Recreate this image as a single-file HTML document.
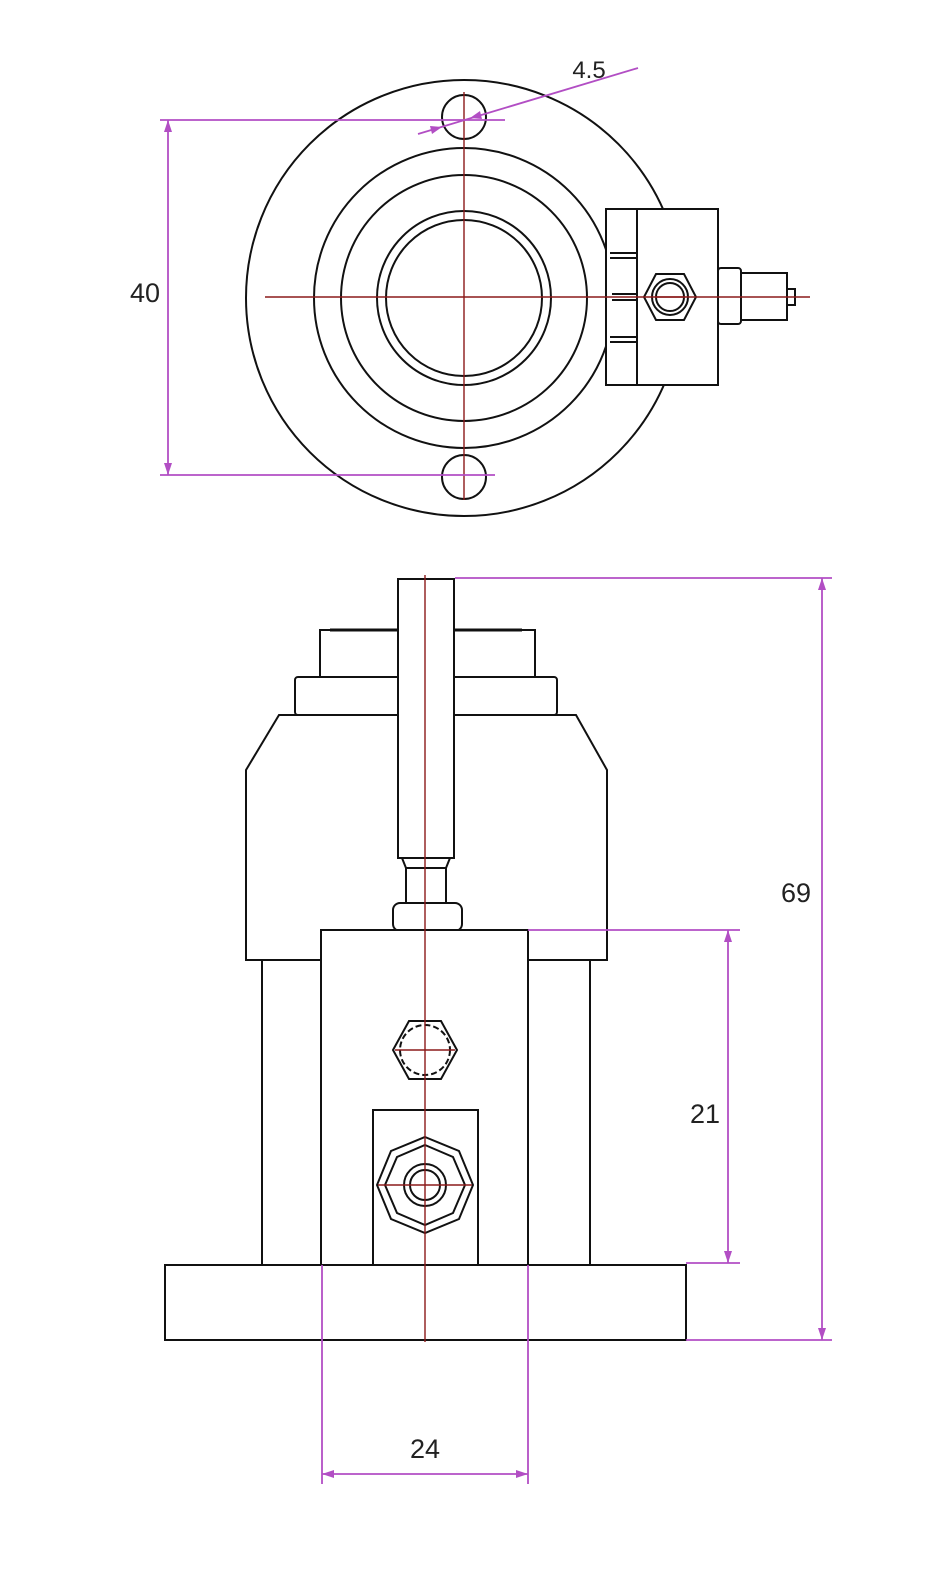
<!DOCTYPE html>
<html><head><style>html,body{margin:0;padding:0;background:#fff}svg{display:block}</style></head><body>
<svg width="946" height="1575" viewBox="0 0 946 1575" xmlns="http://www.w3.org/2000/svg">
<g fill="none" stroke="#111" stroke-width="2">
<!-- top view -->
<circle cx="464" cy="298" r="218"/>
<ellipse cx="464" cy="298" rx="150" ry="150"/>
<circle cx="464" cy="298" r="123"/>
<circle cx="464" cy="298" r="87"/>
<circle cx="464" cy="298" r="78"/>
<circle cx="464" cy="117" r="22"/>
<circle cx="464" cy="477" r="22"/>
<rect x="606" y="209" width="112" height="176" fill="#fff"/>
<line x1="637" y1="209" x2="637" y2="385"/>
<line x1="610" y1="253" x2="637" y2="253"/><line x1="610" y1="258" x2="637" y2="258"/>
<line x1="610" y1="337" x2="637" y2="337"/><line x1="610" y1="342" x2="637" y2="342"/>
<polygon points="656,274 684,274 696,297 684,320 656,320 644,297"/>
<circle cx="670" cy="297" r="18"/><circle cx="670" cy="297" r="14"/>
<line x1="612" y1="294" x2="637" y2="294"/><line x1="612" y1="300" x2="637" y2="300"/>
<rect x="718" y="268" width="23" height="56" rx="3"/>
<rect x="741" y="273" width="46" height="47"/>
<rect x="787" y="289" width="8" height="16"/>
<!-- front view -->
<path d="M279 715 L576 715 L607 770 L607 960 L246 960 L246 770 Z"/>
<rect x="295" y="677" width="262" height="38" rx="3"/>
<rect x="320" y="630" width="215" height="47"/>
<line x1="330" y1="630" x2="522" y2="630" stroke-width="3"/>
<rect x="398" y="579" width="56" height="279" fill="#fff"/>
<path d="M402 858 L450 858 L446 868 L406 868 Z"/>
<rect x="406" y="868" width="40" height="35"/>
<rect x="393" y="903" width="69" height="28" rx="7"/>
<line x1="262" y1="960" x2="262" y2="1265"/><line x1="590" y1="960" x2="590" y2="1265"/>
<rect x="321" y="930" width="207" height="335" fill="#fff"/>
<rect x="373" y="1110" width="105" height="155"/>
<rect x="165" y="1265" width="521" height="75"/>
<polygon points="409,1021 441,1021 457,1050 441,1079 409,1079 393,1050"/>
<circle cx="425" cy="1050" r="25" stroke-dasharray="6 3"/>
<polygon points="425,1137 459,1151 473,1185 459,1219 425,1233 391,1219 377,1185 391,1151"/>
<polygon points="425,1145 453,1157 465,1185 453,1213 425,1225 397,1213 385,1185 397,1157"/>
<circle cx="425" cy="1185" r="21"/><circle cx="425" cy="1185" r="15"/>
</g>
<g stroke="#8b1a1a" stroke-width="1.4">
<line x1="265" y1="297" x2="810" y2="297"/><line x1="464" y1="92" x2="464" y2="500"/>
<line x1="655" y1="297" x2="685" y2="297"/>
<line x1="425" y1="575" x2="425" y2="1342"/>
<line x1="395" y1="1050" x2="455" y2="1050"/><line x1="378" y1="1185" x2="472" y2="1185"/>
</g>
<g stroke="#b24ec4" stroke-width="1.8" fill="none">
<line x1="160" y1="120" x2="505" y2="120"/><line x1="160" y1="475" x2="495" y2="475"/>
<line x1="168" y1="120" x2="168" y2="475"/>
<line x1="418" y1="134" x2="638" y2="68"/>
<line x1="455" y1="578" x2="832" y2="578"/><line x1="686" y1="1340" x2="832" y2="1340"/>
<line x1="822" y1="578" x2="822" y2="1340"/>
<line x1="528" y1="930" x2="740" y2="930"/><line x1="686" y1="1263" x2="740" y2="1263"/>
<line x1="728" y1="930" x2="728" y2="1263"/>
<line x1="322" y1="1265" x2="322" y2="1484"/><line x1="528" y1="1265" x2="528" y2="1484"/>
<line x1="322" y1="1474" x2="528" y2="1474"/>
</g>
<g fill="#b24ec4">
<polygon points="168,120 164,132 172,132"/><polygon points="168,475 164,463 172,463"/>
<polygon points="822,578 818,590 826,590"/><polygon points="822,1340 818,1328 826,1328"/>
<polygon points="728,930 724,942 732,942"/><polygon points="728,1263 724,1251 732,1251"/>
<polygon points="322,1474 334,1470 334,1478"/><polygon points="528,1474 516,1470 516,1478"/>
<polygon points="442,127 430,126 432,134"/><polygon points="470,118 482,119 480,111"/>
</g>
<g font-family="Liberation Sans, sans-serif" font-size="27" fill="#222" text-anchor="middle">
<text x="145" y="302">40</text>
<text x="589" y="78" font-size="24">4.5</text>
<text x="796" y="902">69</text>
<text x="705" y="1123">21</text>
<text x="425" y="1458">24</text>
</g>
</svg>
</body></html>
